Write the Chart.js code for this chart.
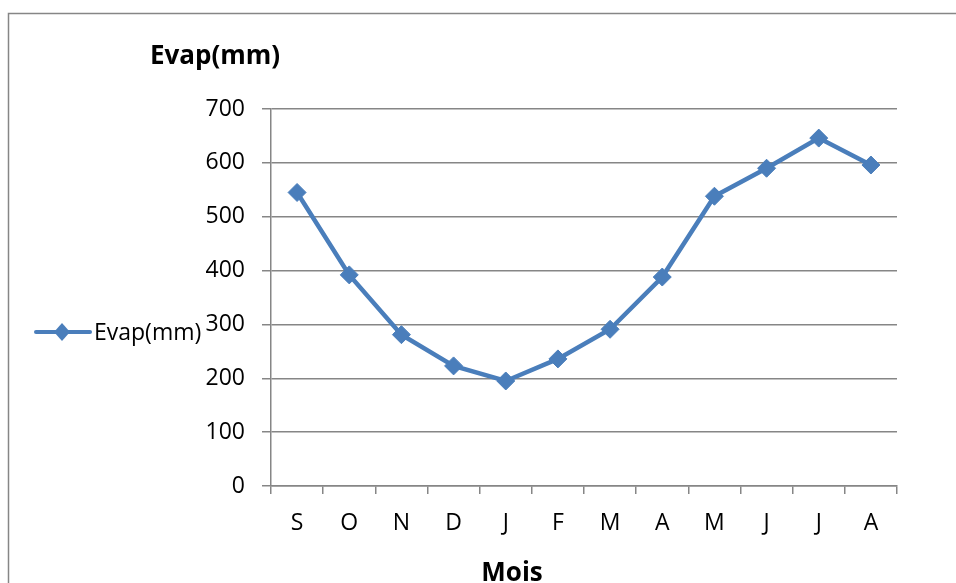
<!DOCTYPE html>
<html>
<head>
<meta charset="utf-8">
<script src="https://cdn.jsdelivr.net/npm/chart.js@4.4.0/dist/chart.umd.min.js"></script>
<style>
    html, body { margin: 0; padding: 0; background: #fff; }
    #wrap { width: 956px; height: 583px; position: relative; overflow: hidden; }
</style>
</head>
<body>
<div id="wrap"><canvas id="evapChart" width="956" height="583"></canvas></div>
<script>
const months = ['S', 'O', 'N', 'D', 'J', 'F', 'M', 'A', 'M', 'J', 'J', 'A'];
const evapValues = [545, 392, 281, 223, 195, 236, 291, 388, 538, 590, 646, 596];
const yTicks = [0, 100, 200, 300, 400, 500, 600, 700];
const seriesName = 'Evap(mm)';
const yTitle = 'Evap(mm)';
const xTitle = 'Mois';

const lineColor = '#4a7ebb';
const gridColor = '#868686';

Chart.defaults.font.family = '"Open Sans", "DejaVu Sans", sans-serif';
Chart.defaults.color = '#000';

// frame, titles and the legend drawn around the plot
const decorations = {
    id: 'decorations',
    beforeDraw(chart) {
        const ctx = chart.ctx;
        ctx.save();
        ctx.strokeStyle = gridColor;
        ctx.lineWidth = 1.5;
        ctx.strokeRect(8.5, 13.5, 1100, 1000);
        ctx.restore();
    },
    afterDraw(chart) {
        const { ctx, chartArea } = chart;
        ctx.save();
        ctx.fillStyle = '#000';
        ctx.font = 'bold 26px "Open Sans"';
        ctx.textAlign = 'center';
        ctx.textBaseline = 'alphabetic';
        ctx.fillText(yTitle, chartArea.left - 56, chartArea.top - 45);
        ctx.fillText(xTitle, chartArea.left + 241, 581);

        // legend: line with diamond, then the series name
        const ly = 332;
        ctx.strokeStyle = lineColor;
        ctx.lineWidth = 4;
        ctx.lineCap = 'round';
        ctx.beginPath();
        ctx.moveTo(36, ly);
        ctx.lineTo(90, ly);
        ctx.stroke();
        ctx.fillStyle = lineColor;
        ctx.beginPath();
        ctx.moveTo(62, ly - 9);
        ctx.lineTo(70, ly);
        ctx.lineTo(62, ly + 9);
        ctx.lineTo(54, ly);
        ctx.closePath();
        ctx.fill();
        ctx.fillStyle = '#000';
        ctx.font = '23px "Open Sans"';
        ctx.textAlign = 'left';
        ctx.textBaseline = 'middle';
        ctx.fillText(seriesName, 94, ly + 1);
        ctx.restore();
    }
};

const ctx = document.getElementById('evapChart').getContext('2d');
new Chart(ctx, {
    type: 'line',
    data: {
        labels: months,
        datasets: [{
            label: seriesName,
            data: evapValues,
            borderColor: lineColor,
            backgroundColor: lineColor,
            borderWidth: 4.5,
            tension: 0,
            pointStyle: 'rectRot',
            pointRadius: 9,
            pointBorderWidth: 1,
            pointBackgroundColor: lineColor,
            pointBorderColor: lineColor
        }]
    },
    options: {
        responsive: false,
        animation: false,
        layout: {
            padding: { left: 0, top: 109, right: 59, bottom: 0 }
        },
        plugins: {
            legend: { display: false },
            title: { display: false },
            tooltip: { enabled: false }
        },
        scales: {
            x: {
                offset: true,
                grid: {
                    offset: true,
                    drawOnChartArea: false,
                    drawTicks: true,
                    tickLength: 8,
                    color: gridColor,
                    lineWidth: 1.5
                },
                border: { color: gridColor, width: 1.5 },
                ticks: { font: { size: 23 }, padding: 16, maxRotation: 0 },
                afterFit(scale) { scale.height = 97; }
            },
            y: {
                min: yTicks[0],
                max: yTicks[yTicks.length - 1],
                grid: {
                    color: gridColor,
                    lineWidth: 1.5,
                    tickLength: 9
                },
                border: { color: gridColor, width: 1.5 },
                ticks: { stepSize: yTicks[1] - yTicks[0], font: { size: 23 }, padding: 17 },
                afterFit(scale) { scale.width = 271; }
            }
        }
    },
    plugins: [decorations]
});
</script>
</body>
</html>
